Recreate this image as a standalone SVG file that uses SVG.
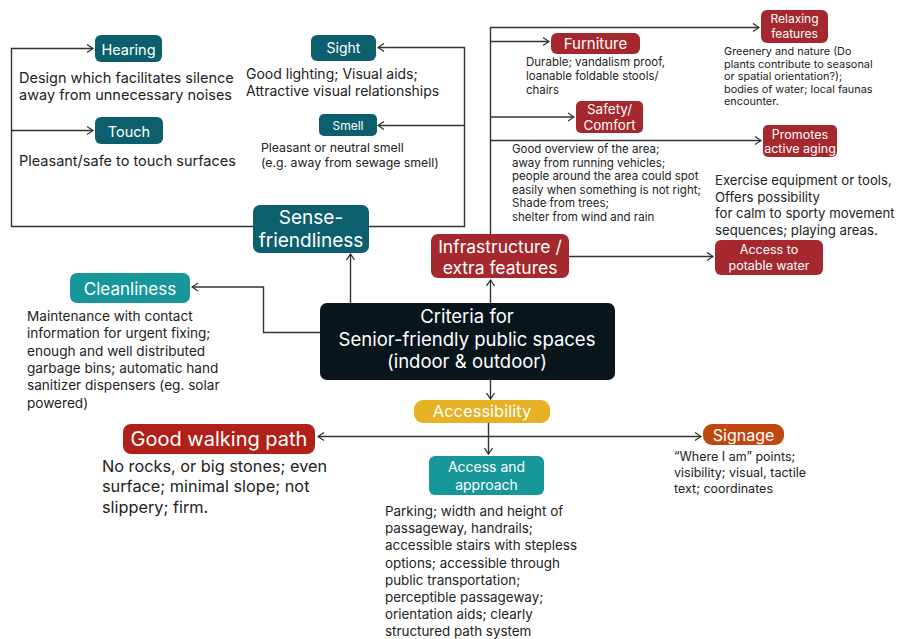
<svg xmlns="http://www.w3.org/2000/svg" width="898" height="639" viewBox="0 0 898 639">
<style>
text{font-family:Inter,"Noto Sans","Liberation Sans",sans-serif}
.w{fill:#fff;text-anchor:middle}
.d{fill:#222}
.c{fill:none;stroke:#333;stroke-width:1.4}
</style>
<defs>
<marker id="a" markerWidth="8" markerHeight="10" refX="7" refY="5" orient="auto" markerUnits="userSpaceOnUse">
<path d="M1,1 L7,5 L1,9" fill="none" stroke="#333" stroke-width="1.3"/>
</marker>
</defs>
<rect width="898" height="639" fill="#fff"/>
<g id="connectors" class="c">
<path class="c" d="M253,226.5 H11.5 V48.5 H93" marker-end="url(#a)"/>
<path class="c" d="M11.5,130.5 H93" marker-end="url(#a)"/>
<path class="c" d="M369,226.5 H464.5 V47.5 H378" marker-end="url(#a)"/>
<path class="c" d="M464.5,125.5 H378" marker-end="url(#a)"/>
<path class="c" d="M350.5,303 V254" marker-end="url(#a)"/>
<path class="c" d="M320,332.5 H263.5 V287 H192" marker-end="url(#a)"/>
<path class="c" d="M490.5,303 V280" marker-end="url(#a)"/>
<path class="c" d="M490.5,234 V27.5 H759" marker-end="url(#a)"/>
<path class="c" d="M490.5,41.5 H549" marker-end="url(#a)"/>
<path class="c" d="M490.5,117 H574" marker-end="url(#a)"/>
<path class="c" d="M490.5,140.5 H761" marker-end="url(#a)"/>
<path class="c" d="M569,256.5 H713" marker-end="url(#a)"/>
<path class="c" d="M490.5,380 V399" marker-end="url(#a)"/>
<path class="c" d="M488.5,423 V454" marker-end="url(#a)"/>
<path class="c" d="M488.5,436.5 H318" marker-end="url(#a)"/>
<path class="c" d="M488.5,436.5 H701" marker-end="url(#a)"/>
</g>
<g id="hearing">
<rect x="95" y="35" width="67" height="27" rx="6" fill="#0e5f6e"/>
<text class="w" x="128.5" y="54.5" font-size="14.5">Hearing</text>
<text class="d" x="19" y="83" font-size="14.5">Design which facilitates silence</text>
<text class="d" x="19" y="100" font-size="14.5">away from unnecessary noises</text>
</g>
<g id="touch">
<rect x="95" y="117" width="68" height="27" rx="6" fill="#0e5f6e"/>
<text class="w" x="129" y="136.5" font-size="14.5">Touch</text>
<text class="d" x="19" y="166" font-size="14.5">Pleasant/safe to touch surfaces</text>
</g>
<g id="sight">
<rect x="311" y="35" width="65" height="26" rx="6" fill="#0e5f6e"/>
<text class="w" x="343.5" y="53" font-size="14">Sight</text>
<text class="d" x="246" y="79" font-size="14">Good lighting; Visual aids;</text>
<text class="d" x="246" y="96" font-size="14">Attractive visual relationships</text>
</g>
<g id="smell">
<rect x="319" y="114" width="58" height="22" rx="5" fill="#0e5f6e"/>
<text class="w" x="348" y="130" font-size="12">Smell</text>
<text class="d" x="261" y="152" font-size="12.3">Pleasant or neutral smell</text>
<text class="d" x="261" y="167" font-size="12.3">(e.g. away from sewage smell)</text>
</g>
<g id="sense">
<rect x="253" y="205" width="116" height="48" rx="7" fill="#0e5f6e"/>
<text class="w" x="311" y="224" font-size="19">Sense-</text>
<text class="w" x="311" y="247" font-size="19">friendliness</text>
</g>
<g id="cleanliness">
<rect x="70" y="273" width="120" height="30" rx="7" fill="#17979a"/>
<text class="w" x="130" y="294.5" font-size="17">Cleanliness</text>
<text class="d" x="27" y="321" font-size="13.6">Maintenance with contact</text>
<text class="d" x="27" y="338.3" font-size="13.6">information for urgent fixing;</text>
<text class="d" x="27" y="355.6" font-size="13.6">enough and well distributed</text>
<text class="d" x="27" y="372.9" font-size="13.6">garbage bins; automatic hand</text>
<text class="d" x="27" y="390.2" font-size="13.6">sanitizer dispensers (eg. solar</text>
<text class="d" x="27" y="407.5" font-size="13.6">powered)</text>
</g>
<g id="center">
<rect x="320" y="303" width="295" height="77" rx="7" fill="#08161c"/>
<text class="w" x="467" y="323" font-size="18.5">Criteria for</text>
<text class="w" x="467" y="346" font-size="18.5">Senior-friendly public spaces</text>
<text class="w" x="467" y="368" font-size="18.5">(indoor &amp; outdoor)</text>
</g>
<g id="infrastructure">
<rect x="431" y="234" width="138" height="44" rx="7" fill="#a5282e"/>
<text class="w" x="500" y="252.5" font-size="17.5">Infrastructure /</text>
<text class="w" x="500" y="274" font-size="17.5">extra features</text>
</g>
<g id="furniture">
<rect x="551" y="33" width="89" height="21" rx="6" fill="#a5282e"/>
<text class="w" x="595.5" y="49" font-size="15">Furniture</text>
<text class="d" x="526" y="66" font-size="11.5">Durable; vandalism proof,</text>
<text class="d" x="526" y="80" font-size="11.5">loanable foldable stools/</text>
<text class="d" x="526" y="94" font-size="11.5">chairs</text>
</g>
<g id="relaxing">
<rect x="761" y="10" width="67" height="33" rx="6" fill="#a5282e"/>
<text class="w" x="794.5" y="23" font-size="12">Relaxing</text>
<text class="w" x="794.5" y="37.5" font-size="12">features</text>
<text class="d" x="724" y="55" font-size="10.9">Greenery and nature (Do</text>
<text class="d" x="724" y="67.5" font-size="10.9">plants contribute to seasonal</text>
<text class="d" x="724" y="80" font-size="10.9">or spatial orientation?);</text>
<text class="d" x="724" y="92.5" font-size="10.9">bodies of water; local faunas</text>
<text class="d" x="724" y="105" font-size="10.9">encounter.</text>
</g>
<g id="safety">
<rect x="576" y="101" width="67" height="32" rx="5" fill="#a5282e"/>
<text class="w" x="609.5" y="114" font-size="13.5">Safety/</text>
<text class="w" x="609.5" y="129.5" font-size="13.5">Comfort</text>
<text class="d" x="512" y="153" font-size="11.5">Good overview of the area;</text>
<text class="d" x="512" y="166.6" font-size="11.5">away from running vehicles;</text>
<text class="d" x="512" y="180.2" font-size="11.5">people around the area could spot</text>
<text class="d" x="512" y="193.8" font-size="11.5">easily when something is not right;</text>
<text class="d" x="512" y="207.4" font-size="11.5">Shade from trees;</text>
<text class="d" x="512" y="221" font-size="11.5">shelter from wind and rain</text>
</g>
<g id="promotes">
<rect x="763" y="125" width="74" height="32" rx="5" fill="#a5282e"/>
<text class="w" x="800" y="138.5" font-size="12.5">Promotes</text>
<text class="w" x="800" y="153" font-size="12.5">active aging</text>
<text class="d" x="715" y="185" font-size="13.2">Exercise equipment or tools,</text>
<text class="d" x="715" y="201.5" font-size="13.2">Offers possibility</text>
<text class="d" x="715" y="218" font-size="13.2">for calm to sporty movement</text>
<text class="d" x="715" y="234.5" font-size="13.2">sequences; playing areas.</text>
</g>
<g id="water">
<rect x="715" y="240" width="108" height="35" rx="6" fill="#a5282e"/>
<text class="w" x="769" y="253.5" font-size="12.5">Access to</text>
<text class="w" x="769" y="269.5" font-size="12.5">potable water</text>
</g>
<g id="accessibility">
<rect x="414" y="400" width="136" height="23" rx="9" fill="#e6b125"/>
<text class="w" x="482" y="417" font-size="16.5">Accessibility</text>
</g>
<g id="walking">
<rect x="123" y="424" width="192" height="30" rx="8" fill="#b1211a"/>
<text class="w" x="219" y="446" font-size="20">Good walking path</text>
<text class="d" x="102" y="471.5" font-size="16.3">No rocks, or big stones; even</text>
<text class="d" x="102" y="492" font-size="16.3">surface; minimal slope; not</text>
<text class="d" x="102" y="512.5" font-size="16.3">slippery; firm.</text>
</g>
<g id="approach">
<rect x="429" y="456" width="115" height="39" rx="6" fill="#17979a"/>
<text class="w" x="486.5" y="471.5" font-size="14">Access and</text>
<text class="w" x="486.5" y="489.5" font-size="14">approach</text>
<text class="d" x="385" y="516" font-size="13.4">Parking; width and height of</text>
<text class="d" x="385" y="533.2" font-size="13.4">passageway, handrails;</text>
<text class="d" x="385" y="550.4" font-size="13.4">accessible stairs with stepless</text>
<text class="d" x="385" y="567.6" font-size="13.4">options; accessible through</text>
<text class="d" x="385" y="584.8" font-size="13.4">public transportation;</text>
<text class="d" x="385" y="602" font-size="13.4">perceptible passageway;</text>
<text class="d" x="385" y="619.2" font-size="13.4">orientation aids; clearly</text>
<text class="d" x="385" y="636.4" font-size="13.4">structured path system</text>
</g>
<g id="signage">
<rect x="703" y="424" width="81" height="21" rx="9" fill="#c0470f"/>
<text class="w" x="743.5" y="440.5" font-size="16">Signage</text>
<text class="d" x="674" y="461" font-size="12.5">“Where I am” points;</text>
<text class="d" x="674" y="477" font-size="12.5">visibility; visual, tactile</text>
<text class="d" x="674" y="493" font-size="12.5">text; coordinates</text>
</g>
</svg>
